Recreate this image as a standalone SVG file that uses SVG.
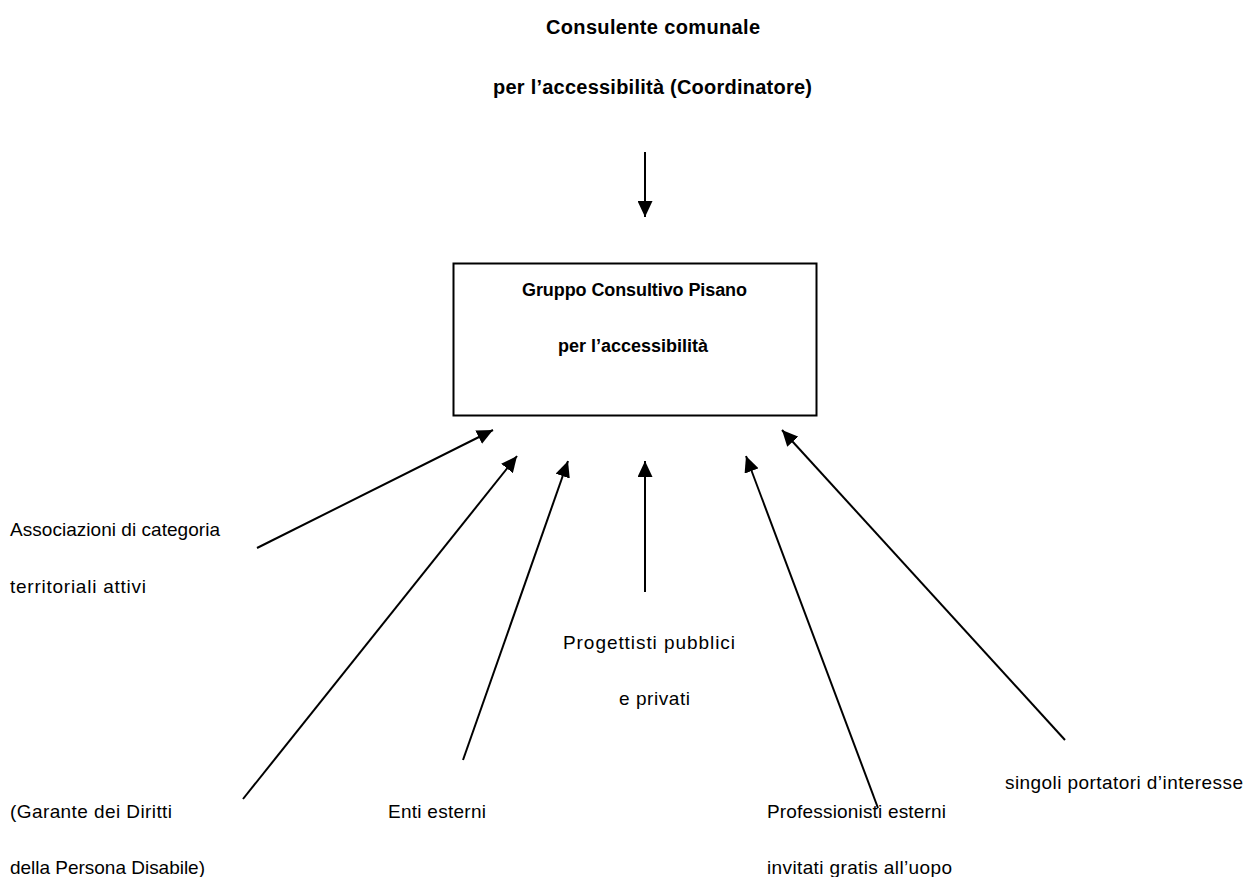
<svg xmlns="http://www.w3.org/2000/svg" width="1246" height="877" viewBox="0 0 1246 877">
<style>
.t{font-family:"Liberation Sans",Arial,sans-serif;font-size:19px;fill:#000}
.h{font-weight:bold;font-size:20px}
.b{font-weight:bold;font-size:18px}
.c{stroke:#000;stroke-width:2;fill:none}
</style>
<defs>
<marker id="ah" viewBox="0 0 16 15" refX="16" refY="7.5" markerWidth="16" markerHeight="15" orient="auto" markerUnits="userSpaceOnUse">
<path d="M0,0 L16,7.5 L0,15 z" fill="#000"/>
</marker>
</defs>
<rect width="1246" height="877" fill="#fff"/>
<g id="coordinatore">
<text class="t h" x="546" y="34" textLength="214" lengthAdjust="spacing">Consulente comunale</text>
<text class="t h" x="493" y="94" textLength="319" lengthAdjust="spacing">per l’accessibilità (Coordinatore)</text>
</g>
<g id="gruppo">
<rect x="453.5" y="263.5" width="363" height="152" fill="#fff" stroke="#000" stroke-width="2"/>
<text class="t b" x="522" y="296" textLength="225" lengthAdjust="spacing">Gruppo Consultivo Pisano</text>
<text class="t b" x="558" y="352" textLength="150" lengthAdjust="spacing">per l’accessibilità</text>
</g>
<g id="associazioni">
<text class="t" x="10" y="536" textLength="210" lengthAdjust="spacing">Associazioni di categoria</text>
<text class="t" x="10" y="593" textLength="136" lengthAdjust="spacing">territoriali attivi</text>
</g>
<g id="garante">
<text class="t" x="10" y="818" textLength="162" lengthAdjust="spacing">(Garante dei Diritti</text>
<text class="t" x="10" y="874" textLength="195" lengthAdjust="spacing">della Persona Disabile)</text>
</g>
<g id="enti">
<text class="t" x="388" y="818" textLength="98" lengthAdjust="spacing">Enti esterni</text>
</g>
<g id="progettisti">
<text class="t" x="563" y="649" textLength="172" lengthAdjust="spacing">Progettisti pubblici</text>
<text class="t" x="619" y="705" textLength="71" lengthAdjust="spacing">e privati</text>
</g>
<g id="professionisti">
<text class="t" x="767" y="818" textLength="179" lengthAdjust="spacing">Professionisti esterni</text>
<text class="t" x="767" y="874" textLength="185" lengthAdjust="spacing">invitati gratis all’uopo</text>
</g>
<g id="singoli">
<text class="t" x="1005" y="789" textLength="238" lengthAdjust="spacing">singoli portatori d’interesse</text>
</g>
<g id="connectors">
<line class="c" x1="645" y1="152" x2="645" y2="217" marker-end="url(#ah)"/>
<line class="c" x1="257" y1="548" x2="493" y2="430" marker-end="url(#ah)"/>
<line class="c" x1="243" y1="799" x2="517" y2="456" marker-end="url(#ah)"/>
<line class="c" x1="463" y1="760" x2="568" y2="461" marker-end="url(#ah)"/>
<line class="c" x1="645" y1="592" x2="645" y2="461" marker-end="url(#ah)"/>
<line class="c" x1="878" y1="808" x2="746" y2="456" marker-end="url(#ah)"/>
<line class="c" x1="1065" y1="740" x2="782" y2="430" marker-end="url(#ah)"/>
</g>
</svg>
